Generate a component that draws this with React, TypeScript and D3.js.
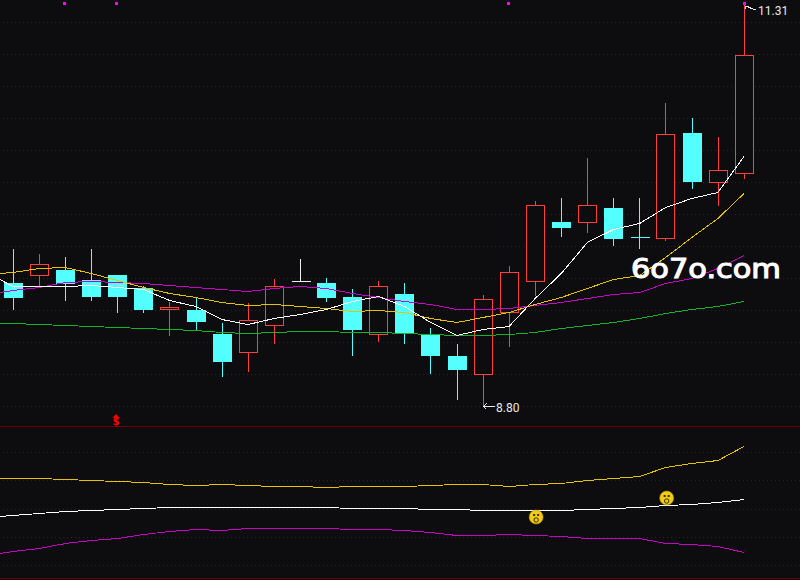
import React from 'react';
import * as d3 from 'd3';

const width = 800;
const height = 580;

// one bar sits left of the frame, the averages come in from there
const barIndex = d3.range(0, 29);
const maIndex = d3.range(-1, 29);

const opens = [9.569, 9.614, 9.650, 9.587, 9.619, 9.537, 9.401, 9.399, 9.249, 9.135, 9.304, 9.583, 9.569, 9.481, 9.247, 9.500, 9.243, 9.111, 8.997, 9.385, 9.579, 9.951, 9.949, 10.038, 9.855, 9.849, 10.508, 10.199, 10.256];
const closes = [9.483, 9.686, 9.567, 9.489, 9.489, 9.406, 9.416, 9.332, 9.082, 9.335, 9.548, 9.583, 9.483, 9.282, 9.548, 9.257, 9.120, 9.032, 9.467, 9.636, 10.055, 9.921, 10.055, 9.852, 9.855, 10.500, 10.209, 10.275, 10.995];
const highs = [9.782, 9.750, 9.731, 9.782, 9.619, 9.550, 9.450, 9.483, 9.318, 9.443, 9.594, 9.719, 9.600, 9.531, 9.581, 9.569, 9.287, 9.187, 9.493, 9.675, 10.082, 10.101, 10.352, 10.101, 10.101, 10.696, 10.602, 10.483, 11.31];
const lows = [9.399, 9.550, 9.458, 9.458, 9.383, 9.383, 9.238, 9.274, 8.982, 9.013, 9.188, 9.583, 9.451, 9.113, 9.201, 9.188, 9.000, 8.838, 8.80, 9.170, 9.489, 9.859, 9.884, 9.802, 9.783, 9.834, 10.159, 10.053, 10.222];
// the two bars that open and close level, drawn as a cross
const crossColors: Record<number, string> = { 11: '#f0f0f0', 24: '#54ffff' };

const ma5 = [9.638, 9.550, 9.548, 9.548, 9.554, 9.542, 9.529, 9.462, 9.423, 9.345, 9.310, 9.349, 9.374, 9.406, 9.458, 9.485, 9.425, 9.326, 9.243, 9.280, 9.297, 9.475, 9.631, 9.827, 9.905, 9.946, 10.043, 10.099, 10.137, 10.364];
const ma10 = [9.622, 9.636, 9.663, 9.667, 9.629, 9.587, 9.542, 9.506, 9.483, 9.451, 9.429, 9.435, 9.423, 9.412, 9.391, 9.398, 9.385, 9.351, 9.322, 9.354, 9.387, 9.437, 9.483, 9.539, 9.596, 9.617, 9.733, 9.855, 9.974, 10.131];
const ma20 = [9.498, 9.523, 9.545, 9.573, 9.583, 9.577, 9.567, 9.554, 9.545, 9.529, 9.520, 9.537, 9.548, 9.539, 9.508, 9.483, 9.458, 9.437, 9.404, 9.404, 9.409, 9.431, 9.450, 9.477, 9.500, 9.510, 9.567, 9.602, 9.661, 9.744];
const ma60 = [9.316, 9.316, 9.312, 9.304, 9.297, 9.291, 9.285, 9.279, 9.272, 9.260, 9.254, 9.260, 9.266, 9.266, 9.262, 9.260, 9.254, 9.247, 9.241, 9.241, 9.247, 9.264, 9.285, 9.306, 9.326, 9.347, 9.379, 9.404, 9.426, 9.454];

const upperBand = [99.9, 99.7, 99.7, 98.7, 97.7, 96.7, 95.7, 93.7, 92.7, 93.7, 92.7, 91.7, 91.7, 90.7, 91.7, 91.7, 91.7, 92.7, 93.7, 93.7, 91.7, 93.7, 94.7, 97.7, 99.7, 101.7, 110.7, 114.7, 118, 132];
const midBand = [61.5, 62.7, 64.7, 66.7, 67.7, 68.7, 69.7, 70.7, 70.7, 70.7, 70.7, 70.7, 70.7, 70.7, 69.7, 69.7, 69.7, 68.7, 68.7, 67.7, 67.7, 67.7, 67.7, 68.7, 69.7, 70.7, 72.7, 73.7, 75.7, 78.7];
const lowerBand = [23, 26.7, 29.7, 34.7, 37.7, 39.7, 43.7, 46.7, 48.7, 47.7, 49.7, 49.7, 49.7, 49.7, 48.7, 48.7, 47.7, 45.7, 42.7, 42.7, 43.7, 42.7, 41.7, 39.7, 39.7, 39.7, 34.7, 33.7, 31.7, 25.7];

const topMarks = [2, 4, 19, 28];
const priceGrid = d3.range(13);
const bandGrid = [126, 98, 69, 41, 13];
const smileys = [{ i: 20, v: 61 }, { i: 25, v: 80 }];

const RED = '#ff3f3f';
const CYAN = '#54ffff';
const BG = '#0d0d10';

function App() {
  const ref = React.useRef<SVGSVGElement>(null);

  React.useEffect(() => {
    document.body.style.margin = '0';
    const svg = d3.select(ref.current);
    svg.selectAll('*').remove();

    const x = d3.scaleLinear().domain([0, 28]).range([13, 744]);
    const y = d3.scaleLinear().domain([8.8, 11.31]).range([405.7, 5]);
    const y2 = d3.scaleLinear().domain([0, 152]).range([578, 426]);

    // bars land on whole pixels, the old terminal truncates rather than rounds
    const px = (v: number) => Math.floor(v + 0.25) + 0.5;
    const snap = (v: number) => Math.round(v) + 0.5;

    svg.append('rect').attr('width', width).attr('height', height).attr('fill', BG);

    const grid = svg
      .append('g')
      .attr('stroke', '#4d1212')
      .attr('stroke-dasharray', '1 3')
      .attr('shape-rendering', 'crispEdges');
    grid
      .selectAll('.g1')
      .data(priceGrid)
      .join('line')
      .attr('class', 'g1')
      .attr('x1', 3)
      .attr('x2', width)
      .attr('y1', (d) => 22.5 + d * 32)
      .attr('y2', (d) => 22.5 + d * 32);
    grid
      .selectAll('.g2')
      .data(bandGrid)
      .join('line')
      .attr('class', 'g2')
      .attr('x1', 3)
      .attr('x2', width)
      .attr('y1', (d) => snap(y2(d)))
      .attr('y2', (d) => snap(y2(d)));

    svg
      .append('g')
      .attr('stroke', '#6a0000')
      .attr('shape-rendering', 'crispEdges')
      .selectAll('line')
      .data([0, 152])
      .join('line')
      .attr('x1', 0)
      .attr('x2', width)
      .attr('y1', (d) => (d === 0 ? 578.5 : 426.5))
      .attr('y2', (d) => (d === 0 ? 578.5 : 426.5));

    const bars = svg.append('g').attr('shape-rendering', 'crispEdges');
    const colorOf = (i: number) =>
      crossColors[i] || (closes[i] > opens[i] ? RED : CYAN);

    bars
      .selectAll('.wick')
      .data(barIndex)
      .join('line')
      .attr('class', 'wick')
      .attr('x1', (i) => px(x(i)))
      .attr('x2', (i) => px(x(i)))
      .attr('y1', (i) => y(highs[i]))
      .attr('y2', (i) => y(lows[i]))
      .attr('stroke', colorOf);

    // bodies, up bars are hollow so the wick is covered with the background
    bars
      .selectAll('.body')
      .data(barIndex.filter((i) => !crossColors[i]))
      .join('rect')
      .attr('class', 'body')
      .attr('x', (i) => px(x(i)) - 9)
      .attr('width', 18)
      .attr('y', (i) => snap(y(Math.max(opens[i], closes[i]))))
      .attr('height', (i) =>
        Math.round(Math.abs(y(opens[i]) - y(closes[i])))
      )
      .attr('fill', (i) => (closes[i] > opens[i] ? BG : CYAN))
      .attr('stroke', colorOf);

    bars
      .selectAll('.cross')
      .data(barIndex.filter((i) => crossColors[i]))
      .join('line')
      .attr('class', 'cross')
      .attr('x1', (i) => px(x(i)) - 9)
      .attr('x2', (i) => px(x(i)) + 10)
      .attr('y1', (i) => snap(y(opens[i])))
      .attr('y2', (i) => snap(y(opens[i])))
      .attr('stroke', colorOf);

    const line = (scale: d3.ScaleLinear<number, number>) =>
      d3
        .line<number>()
        .x((_, k) => x(maIndex[k]))
        .y((d) => snap(scale(d)));

    const series: Array<[number[], string, d3.ScaleLinear<number, number>]> = [
      [ma60, '#14b428', y],
      [ma20, '#c800c8', y],
      [ma10, '#e6c300', y],
      [ma5, '#ffffff', y],
      [upperBand, '#e6c300', y2],
      [midBand, '#ffffff', y2],
      [lowerBand, '#c800c8', y2],
    ];
    svg
      .append('g')
      .attr('fill', 'none')
      .attr('shape-rendering', 'crispEdges')
      .selectAll('path')
      .data(series)
      .join('path')
      .attr('d', (d) => line(d[2])(d[0]))
      .attr('stroke', (d) => d[1]);

    const markShift: Record<number, number> = { 2: -1, 4: -1, 19: -1, 28: 0 };
    svg
      .append('g')
      .attr('shape-rendering', 'crispEdges')
      .selectAll('rect')
      .data(topMarks)
      .join('rect')
      .attr('x', (i) => Math.round(x(i)) - 1 + markShift[i])
      .attr('y', 2)
      .attr('width', 3)
      .attr('height', 3)
      .attr('fill', '#ff00ff');

    // high and low labels
    const label = svg
      .append('g')
      .attr('fill', '#e8e8e8')
      .attr('font-family', 'Roboto, Arial, sans-serif')
      .attr('font-size', 12);
    label.append('text').attr('x', 758).attr('y', 15).text('11.31');
    label.append('text').attr('x', 496).attr('y', 412).text('8.80');

    const arrows = svg
      .append('g')
      .attr('fill', 'none')
      .attr('stroke', '#e8e8e8')
      .attr('shape-rendering', 'crispEdges');
    arrows.append('path').attr('d', 'M745 6L756 10M745 6H749M745 6V9');
    arrows.append('path').attr('d', 'M483.5 406.5H495M483.5 406.5L486.5 403.5M483.5 406.5L486.5 409.5');

    svg
      .append('text')
      .attr('x', 116)
      .attr('y', 425)
      .attr('text-anchor', 'middle')
      .attr('fill', '#ff0000')
      .attr('font-family', 'DejaVu Sans')
      .attr('font-weight', 700)
      .attr('font-size', 10)
      .text('$');
    svg
      .append('path')
      .attr('d', 'M116 414L119.5 418H112.5Z')
      .attr('fill', '#ff0000');

    const faces = svg
      .selectAll('.face')
      .data(smileys)
      .join('g')
      .attr('class', 'face')
      .attr('transform', (d) => `translate(${x(d.i) + 1},${y2(d.v)})`);
    faces.append('circle').attr('r', 7).attr('fill', '#f2cc14').attr('stroke', '#b08c10').attr('stroke-width', 0.6);
    faces.append('rect').attr('x', -3).attr('y', -3).attr('width', 2).attr('height', 2).attr('fill', '#3a2c00');
    faces.append('rect').attr('x', 1).attr('y', -3).attr('width', 2).attr('height', 2).attr('fill', '#3a2c00');
    faces.append('circle').attr('cy', 3).attr('r', 2.2).attr('fill', 'none').attr('stroke', '#3a2c00').attr('stroke-width', 1);

    svg
      .append('text')
      .attr('x', 631)
      .attr('y', 278)
      .attr('fill', '#ffffff')
      .attr('stroke', '#ffffff')
      .attr('stroke-width', 1.1)
      .attr('font-family', 'DejaVu Sans')
      .attr('font-size', 27)
      .attr('textLength', 150)
      .attr('lengthAdjust', 'spacingAndGlyphs')
      .text('6o7o.com');
  }, []);

  return <svg ref={ref} width={width} height={height} style={{ display: 'block' }} />;
}

export default App;
